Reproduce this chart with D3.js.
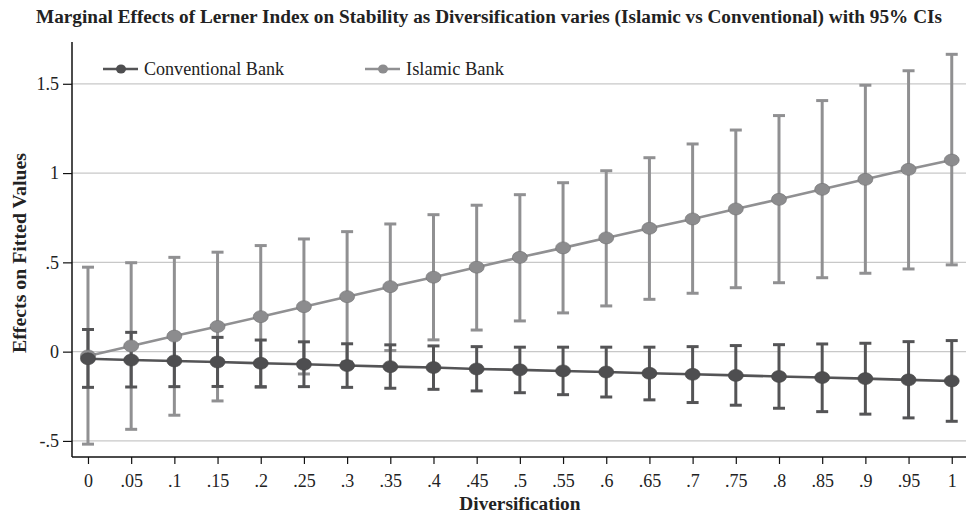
<!DOCTYPE html>
<html>
<head>
<meta charset="utf-8">
<script src="https://cdn.jsdelivr.net/npm/d3@7"></script>
<style>
  body { margin: 0; background: #fff; }
  svg { display: block; }
</style>
</head>
<body>
<svg id="chart"></svg>
<script>
// values
const diversification = [0, .05, .1, .15, .2, .25, .3, .35, .4, .45, .5, .55, .6, .65, .7, .75, .8, .85, .9, .95, 1];
const xTickLabels = ["0", ".05", ".1", ".15", ".2", ".25", ".3", ".35", ".4", ".45", ".5", ".55", ".6", ".65", ".7", ".75", ".8", ".85", ".9", ".95", "1"];
const yTicks = [-0.5, 0, 0.5, 1, 1.5];
const yTickLabels = ["-.5", "0", ".5", "1", "1.5"];

const convEffect = [-0.040, -0.047, -0.052, -0.058, -0.065, -0.071, -0.078, -0.084, -0.089, -0.097, -0.102, -0.108, -0.114, -0.121, -0.127, -0.133, -0.139, -0.145, -0.151, -0.158, -0.164];
const convUpper = [0.124, 0.108, 0.094, 0.080, 0.065, 0.055, 0.044, 0.038, 0.032, 0.028, 0.025, 0.025, 0.025, 0.025, 0.028, 0.034, 0.039, 0.043, 0.047, 0.056, 0.062];
const convLower = [-0.200, -0.198, -0.196, -0.195, -0.196, -0.196, -0.200, -0.205, -0.211, -0.220, -0.230, -0.241, -0.254, -0.270, -0.285, -0.300, -0.317, -0.336, -0.350, -0.371, -0.390];

const islEffect = [-0.024, 0.032, 0.087, 0.141, 0.196, 0.252, 0.308, 0.364, 0.417, 0.473, 0.528, 0.581, 0.637, 0.691, 0.743, 0.799, 0.853, 0.909, 0.965, 1.021, 1.073];
const islUpper = [0.473, 0.498, 0.528, 0.557, 0.594, 0.631, 0.672, 0.715, 0.767, 0.820, 0.879, 0.946, 1.013, 1.086, 1.163, 1.241, 1.322, 1.406, 1.492, 1.573, 1.665];
const islLower = [-0.518, -0.435, -0.356, -0.276, -0.200, -0.125, -0.058, 0.006, 0.066, 0.121, 0.172, 0.217, 0.256, 0.293, 0.327, 0.358, 0.386, 0.414, 0.439, 0.463, 0.486];

const width = 969, height = 519;
const margin = { top: 42, right: 3, bottom: 62, left: 72 };
const serif = "'Liberation Serif', 'Times New Roman', serif";

const svg = d3.select("#chart").attr("width", width).attr("height", height);

const x = d3.scaleLinear().domain([-0.0185, 1.0165]).range([margin.left, width - margin.right]);
const y = d3.scaleLinear().domain([-0.59, 1.734]).range([height - margin.bottom, margin.top]);

// title
svg.append("text")
    .attr("x", 36).attr("y", 23)
    .attr("textLength", 906).attr("lengthAdjust", "spacingAndGlyphs")
    .style("font-family", serif)
    .style("font-size", "18px").style("font-weight", "bold")
    .style("fill", "#222")
    .text("Marginal Effects of Lerner Index on Stability as Diversification varies (Islamic vs Conventional) with 95% CIs");

// gridlines
svg.append("g").selectAll("line")
    .data(yTicks)
    .join("line")
    .attr("x1", margin.left).attr("x2", width - margin.right)
    .attr("y1", d => y(d)).attr("y2", d => y(d))
    .style("stroke", "#c8c8c8").style("stroke-width", 1.3);

// axes
const yAxis = d3.axisLeft(y).tickValues(yTicks).tickFormat((d, i) => yTickLabels[i]).tickSize(9).tickPadding(4);
const xAxis = d3.axisBottom(x).tickValues(diversification).tickFormat((d, i) => xTickLabels[i]).tickSize(7).tickPadding(10);

const gy = svg.append("g").attr("transform", "translate(" + margin.left + ",0)").call(yAxis);
const gx = svg.append("g").attr("transform", "translate(0," + (height - margin.bottom) + ")").call(xAxis);
[gx, gy].forEach(g => {
    g.attr("font-family", null).attr("font-size", null);
    g.select(".domain").style("stroke", "#111").style("stroke-width", 1.5);
    g.selectAll(".tick line").style("stroke", "#111").style("stroke-width", 1.2);
    g.selectAll(".tick text")
        .style("font-family", serif)
        .style("font-size", "18px").style("fill", "#222");
});
// keep the spines plain, no outer ticks
gy.select(".domain").attr("d", "M0," + y.range()[1] + "V" + y.range()[0]);
gx.select(".domain").attr("d", "M" + x.range()[0] + ",0H" + x.range()[1]);

// axis titles
svg.append("text")
    .attr("transform", "translate(26," + 253 + ") rotate(-90)")
    .attr("text-anchor", "middle")
    .attr("textLength", 200).attr("lengthAdjust", "spacingAndGlyphs")
    .style("font-family", serif)
    .style("font-size", "18px").style("font-weight", "bold").style("fill", "#222")
    .text("Effects on Fitted Values");
svg.append("text")
    .attr("x", x(0.5)).attr("y", 510)
    .attr("text-anchor", "middle")
    .attr("textLength", 121).attr("lengthAdjust", "spacingAndGlyphs")
    .style("font-family", serif)
    .style("font-size", "18px").style("font-weight", "bold").style("fill", "#222")
    .text("Diversification");

const series = [
    { name: "Islamic Bank", effect: islEffect, upper: islUpper, lower: islLower, color: "#909092", marker: "#8c8c8e", outline: "#707072" },
    { name: "Conventional Bank", effect: convEffect, upper: convUpper, lower: convLower, color: "#545456", marker: "#4e4e50", outline: "#444" }
];

const capHalf = 6;
const line = d3.line().x((d, i) => x(diversification[i])).y(d => y(d));

// CIs first (islamic, then conventional), then lines and markers on top
series.forEach(s => {
    const g = svg.append("g");
    const idx = d3.range(diversification.length);
    g.selectAll("line.ci")
        .data(idx)
        .join("line")
        .attr("x1", i => x(diversification[i])).attr("x2", i => x(diversification[i]))
        .attr("y1", i => y(s.upper[i])).attr("y2", i => y(s.lower[i]))
        .style("stroke", s.color).style("stroke-width", 3);
    g.selectAll("line.capu")
        .data(idx)
        .join("line")
        .attr("x1", i => x(diversification[i]) - capHalf).attr("x2", i => x(diversification[i]) + capHalf)
        .attr("y1", i => y(s.upper[i])).attr("y2", i => y(s.upper[i]))
        .style("stroke", s.color).style("stroke-width", 3);
    g.selectAll("line.capl")
        .data(idx)
        .join("line")
        .attr("x1", i => x(diversification[i]) - capHalf).attr("x2", i => x(diversification[i]) + capHalf)
        .attr("y1", i => y(s.lower[i])).attr("y2", i => y(s.lower[i]))
        .style("stroke", s.color).style("stroke-width", 3);
});

series.forEach(s => {
    const g = svg.append("g");
    g.append("path")
        .attr("d", line(s.effect))
        .style("fill", "none").style("stroke", s.color).style("stroke-width", 2.6);
    g.selectAll("ellipse")
        .data(s.effect)
        .join("ellipse")
        .attr("cx", (d, i) => x(diversification[i]))
        .attr("cy", d => y(d))
        .attr("rx", 7.5).attr("ry", 6)
        .style("fill", s.marker).style("stroke", s.outline).style("stroke-width", 0.6);
});

// legend
const legend = [
    { name: "Conventional Bank", color: "#545456", marker: "#4e4e50", x: 103, w: 140 },
    { name: "Islamic Bank", color: "#909092", marker: "#8c8c8e", x: 365, w: 98 }
];
const lg = svg.append("g");
legend.forEach(l => {
    lg.append("line")
        .attr("x1", l.x).attr("x2", l.x + 35).attr("y1", 69).attr("y2", 69)
        .style("stroke", l.color).style("stroke-width", 2.6);
    lg.append("ellipse")
        .attr("cx", l.x + 18).attr("cy", 69).attr("rx", 5).attr("ry", 4.5)
        .style("fill", l.marker);
    lg.append("text")
        .attr("x", l.x + 41).attr("y", 75)
        .attr("textLength", l.w).attr("lengthAdjust", "spacingAndGlyphs")
        .style("font-family", serif)
        .style("font-size", "18px").style("fill", "#222")
        .text(l.name);
});
</script>
</body>
</html>
